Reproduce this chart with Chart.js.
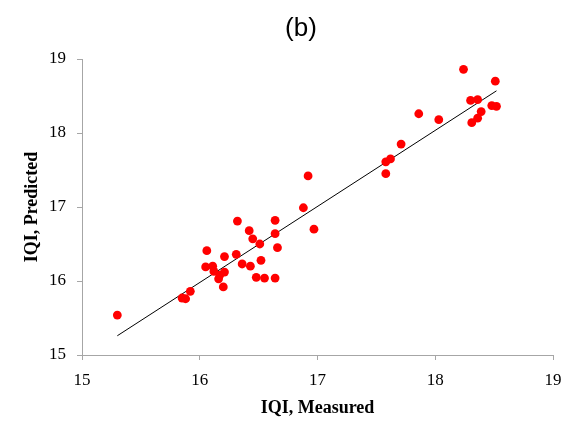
<!DOCTYPE html>
<html>
<head>
<meta charset="utf-8">
<script src="https://cdn.jsdelivr.net/npm/chart.js@4"></script>
<style>
  html, body { margin: 0; padding: 0; background: #fff; }
  #wrap { width: 572px; height: 439px; }
</style>
</head>
<body>
<div id="wrap"><canvas id="c" width="572" height="439"></canvas></div>
<script>
// IQI measured vs predicted
const measured = [15.30, 15.85, 15.88, 15.92, 16.05, 16.06, 16.11, 16.12, 16.16, 16.17,
  16.20, 16.21, 16.21, 16.31, 16.32, 16.36, 16.42, 16.43, 16.45, 16.48,
  16.51, 16.52, 16.55, 16.64, 16.64, 16.64, 16.66, 16.88, 16.92, 16.97,
  17.58, 17.62, 17.58, 17.71, 17.86, 18.03, 18.24, 18.30, 18.36, 18.31,
  18.36, 18.39, 18.48, 18.52, 18.51];
const predicted = [15.54, 15.77, 15.76, 15.86, 16.19, 16.41, 16.20, 16.13, 16.03, 16.08,
  15.92, 16.33, 16.12, 16.36, 16.81, 16.23, 16.68, 16.20, 16.57, 16.05,
  16.50, 16.28, 16.04, 16.82, 16.04, 16.64, 16.45, 16.99, 17.42, 16.70,
  17.61, 17.65, 17.45, 17.85, 18.26, 18.18, 18.86, 18.44, 18.45, 18.14,
  18.20, 18.29, 18.37, 18.36, 18.70];
// fitted line end points
const fitX = [15.30, 18.52];
const fitY = [15.26, 18.57];
const axisTicks = [15, 16, 17, 18, 19];
const panelLabel = '(b)';

const axisGray = '#a6a6a6';
const serif = '"Liberation Serif", "Times New Roman", serif';

// panel label sits a bit right of the canvas centre, so draw it ourselves
const panelTitle = {
  id: 'panelTitle',
  afterDraw(chart) {
    const c = chart.ctx;
    c.save();
    c.font = '26px "Liberation Sans", Arial, sans-serif';
    c.fillStyle = '#000';
    c.textAlign = 'center';
    c.textBaseline = 'middle';
    c.fillText(panelLabel, 301, 29);
    c.restore();
  },
};

const ctx = document.getElementById('c').getContext('2d');
new Chart(ctx, {
  type: 'scatter',
  data: {
    datasets: [
      {
        data: measured.map((m, i) => ({ x: m, y: predicted[i] })),
        backgroundColor: '#ff0000',
        borderColor: '#ff0000',
        borderWidth: 0,
        pointRadius: 4.4,
      },
      {
        type: 'line',
        data: fitX.map((x, i) => ({ x: x, y: fitY[i] })),
        borderColor: '#000',
        borderWidth: 1,
        pointRadius: 0,
        fill: false,
      },
    ],
  },
  plugins: [panelTitle],
  options: {
    responsive: false,
    animation: false,
    layout: { padding: { left: 0, right: 19, top: 59, bottom: 0 } },
    plugins: {
      legend: { display: false },
      tooltip: { enabled: false },
      title: { display: false },
    },
    scales: {
      x: {
        type: 'linear',
        min: 15,
        max: 19,
        afterBuildTicks: (s) => { s.ticks = axisTicks.map(v => ({ value: v })); },
        afterFit: (s) => { s.height = 84; },
        grid: { display: true, drawOnChartArea: false, drawTicks: true, tickLength: 5, color: axisGray },
        border: { display: true, color: axisGray, width: 1 },
        ticks: { color: '#000', padding: 10, font: { family: serif, size: 17 } },
        title: {
          display: true,
          text: 'IQI, Measured',
          color: '#000',
          font: { family: serif, size: 18, weight: 'bold', lineHeight: 1.2 },
          padding: { top: 0, bottom: 20 },
        },
      },
      y: {
        type: 'linear',
        min: 15,
        max: 19,
        afterBuildTicks: (s) => { s.ticks = axisTicks.map(v => ({ value: v })); },
        afterFit: (s) => { s.width = 82; },
        grid: { display: true, drawOnChartArea: false, drawTicks: true, tickLength: 5, color: axisGray },
        border: { display: true, color: axisGray, width: 1 },
        ticks: { color: '#000', padding: 11, font: { family: serif, size: 17 } },
        title: {
          display: true,
          text: 'IQI, Predicted',
          color: '#000',
          font: { family: serif, size: 18, weight: 'bold', lineHeight: 1.2 },
          padding: { top: 22, bottom: 0 },
        },
      },
    },
  },
});
</script>
</body>
</html>
